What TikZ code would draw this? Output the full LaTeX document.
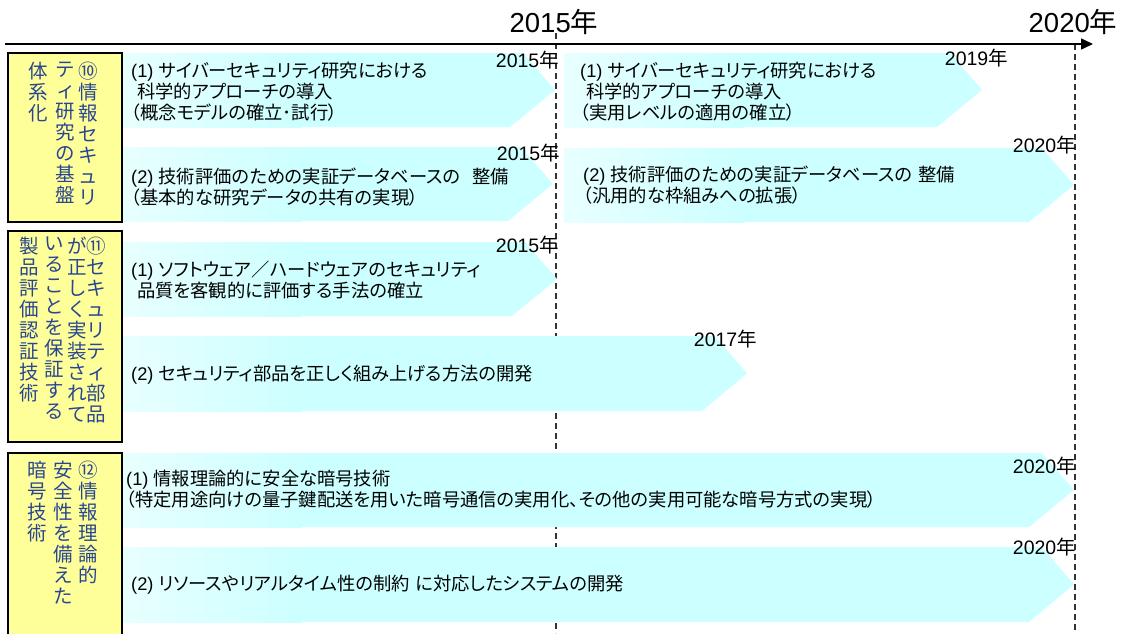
\documentclass[tikz,border=0pt]{standalone}
\usepackage{fontspec}
\setmainfont{Noto Sans CJK JP}[RawFeature=+palt]
\newfontfamily\ar{Liberation Sans}
\usetikzlibrary{arrows.meta}
\definecolor{barc}{RGB}{204,255,255}
\definecolor{boxc}{RGB}{255,255,153}
\definecolor{vtc}{RGB}{40,70,145}
\definecolor{dashc}{RGB}{51,51,51}
\newcommand{\mybar}[4]{%
  \fill[barc] (#1,#2) -- ({#4-32},#2) -- (#4,{(#2+#3)/2}) -- ({#4-45},#3) -- (#1,#3) -- cycle;
  \shade[left color=barc!45!white, right color=barc] (#1,#2) rectangle ({#1+180},#3);
}
\begin{document}
\begin{tikzpicture}[x=1pt,y=-1pt,
  dashline/.style={draw=dashc, line width=1.4pt, dash pattern=on 6pt off 4pt},
  boxst/.style={draw=black, line width=1.8pt, fill=boxc},
  hdr/.style={inner sep=0, font=\fontsize{27.5}{28}\selectfont},
  lbl/.style={anchor=east, inner sep=0, font=\fontsize{19.5}{20}\selectfont},
  btxt/.style={anchor=west, align=left, inner sep=0, font=\fontsize{18.3}{21}\selectfont},
  vtxt/.style={anchor=north, align=center, inner sep=0, text=vtc, font=\fontsize{19.5}{21}\selectfont}]
\useasboundingbox (0,0) rectangle (1124,633);
% dashed year lines
\coordinate (d1t) at (556,33); \coordinate (d1b) at (556,633);
\coordinate (d2t) at (1075,44); \coordinate (d2b) at (1075,633);
\draw[dashline] (d1t) -- (d1b);
\draw[dashline] (d2t) -- (d2b);
% bars
\mybar{122}{53}{127}{555}
\mybar{564}{53}{127}{982}
\mybar{122}{147}{221}{553}
\mybar{564}{148}{222}{1074}
\mybar{122}{242}{316}{557}
\mybar{122}{336}{411}{747}
\mybar{122}{453}{527}{1074}
\mybar{122}{547}{622}{1074}
% timeline
\coordinate (tl0) at (5,44); \coordinate (tl1) at (1093,44);
\draw[line width=1.5pt, -{Triangle[length=12pt,width=11pt]}] (tl0) -- (tl1);
\node[hdr] (h2015) at (554,22) {{\ar 2015}年};
\node[hdr] (h2020) at (1073,22) {{\ar 2020}年};
% left boxes
\draw[boxst] (8,53) rectangle (122,222);
\draw[boxst] (8,231) rectangle (122,442);
\draw[boxst] (8,453) rectangle (122,645);
% vertical texts
\node[vtxt] (v1a) at (88,62) {⑩\\情\\報\\セ\\キ\\ュ\\リ};
\node[vtxt] (v1b) at (65,62) {テ\\ィ\\研\\究\\の\\基\\盤};
\node[vtxt] (v1c) at (38,62) {体\\系\\化};
\node[vtxt] (v2a) at (96,237) {⑪\\セ\\キ\\ュ\\リ\\テ\\ィ\\部\\品};
\node[vtxt] (v2b) at (77,237) {が\\正\\し\\く\\実\\装\\さ\\れ\\て};
\node[vtxt] (v2c) at (54,237) {い\\る\\こ\\と\\を\\保\\証\\す\\る};
\node[vtxt] (v2d) at (29,237) {製\\品\\評\\価\\認\\証\\技\\術};
\node[vtxt] (v3a) at (88,461) {⑫\\情\\報\\理\\論\\的};
\node[vtxt] (v3b) at (63,461) {安\\全\\性\\を\\備\\え\\た};
\node[vtxt] (v3c) at (37,461) {暗\\号\\技\\術};
% bar texts
\node[btxt] (t1a) at (131,92) {{\ar (1) }サイバーセキュリティ研究における\\\hspace*{6pt}科学的アプローチの導入\\（概念モデルの確立･試行）};
\node[btxt] (t1b) at (580,92) {{\ar (1) }サイバーセキュリティ研究における\\\hspace*{6pt}科学的アプローチの導入\\（実用レベルの適用の確立）};
\node[btxt] (t2a) at (131,187) {{\ar (2) }技術評価のための実証データベースの\hspace{12pt}整備\\（基本的な研究データの共有の実現）};
\node[btxt] (t2b) at (583,185) {{\ar (2) }技術評価のための実証データベースの\hspace{6pt}整備\\（汎用的な枠組みへの拡張）};
\node[btxt] (t3) at (131,280) {{\ar (1) }ソフトウェア／ハードウェアのセキュリティ\\\hspace*{6pt}品質を客観的に評価する手法の確立};
\node[btxt] (t4) at (131,375) {{\ar (2) }セキュリティ部品を正しく組み上げる方法の開発};
\node[btxt] (t5) at (126,489) {{\ar (1) }情報理論的に安全な暗号技術\\（特定用途向けの量子鍵配送を用いた暗号通信の実用化、その他の実用可能な暗号方式の実現）};
\node[btxt] (t6) at (131,585) {{\ar (2) }リソースやリアルタイム性の制約\hspace{6pt}に対応したシステムの開発};
% year labels
\node[lbl] (l1a) at (559,60) {{\ar 2015}年};
\node[lbl] (l1b) at (1008,58) {{\ar 2019}年};
\node[lbl] (l2a) at (560,153) {{\ar 2015}年};
\node[lbl] (l2b) at (1076,145) {{\ar 2020}年};
\node[lbl] (l3) at (559,245) {{\ar 2015}年};
\node[lbl] (l4) at (757,339) {{\ar 2017}年};
\node[lbl] (l5) at (1076,466) {{\ar 2020}年};
\node[lbl] (l6) at (1076,547) {{\ar 2020}年};
\end{tikzpicture}
\end{document}
